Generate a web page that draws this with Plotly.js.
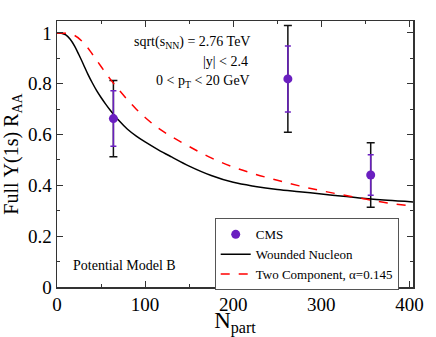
<!DOCTYPE html>
<html>
<head>
<meta charset="utf-8">
<script src="https://cdn.plot.ly/plotly-3.0.1.min.js"></script>
<style>
  html, body { margin: 0; padding: 0; background: #fff; }
  #chart { width: 436px; height: 337px; }
</style>
</head>
<body>
<div id="chart"></div>
<script>
// CMS points (Npart, R_AA) with stat (purple) and total (black) errors
const cmsNpart = [64, 262, 356];
const cmsRaa = [0.663, 0.819, 0.441];
const cmsStatErr = [0.109, 0.13, 0.08];
const cmsTotalErr = [0.15, 0.21, 0.127];

// wounded nucleon curve
const woundedNpart = [0, 5, 10, 15, 20, 25, 30, 35, 40, 45, 50, 55, 60, 70, 80, 90, 100, 115, 130, 150, 175, 200, 225, 250, 275, 300, 325, 350, 375, 404];
const woundedRaa = [1.0, 0.999, 0.992, 0.975, 0.948, 0.913, 0.876, 0.838, 0.804, 0.773, 0.746, 0.721, 0.698, 0.656, 0.621, 0.594, 0.571, 0.54, 0.512, 0.476, 0.439, 0.412, 0.396, 0.384, 0.375, 0.366, 0.357, 0.348, 0.341, 0.335];

// two component curve (alpha = 0.145)
const twoCompNpart = [0, 10, 20, 30, 40, 50, 60, 70, 80, 90, 100, 115, 130, 150, 175, 200, 225, 250, 275, 300, 325, 350, 375, 404];
const twoCompRaa = [1.0, 0.999, 0.99, 0.962, 0.917, 0.868, 0.82, 0.777, 0.737, 0.7, 0.667, 0.625, 0.592, 0.553, 0.508, 0.472, 0.444, 0.42, 0.398, 0.379, 0.362, 0.346, 0.331, 0.318];

const serif = '"Liberation Serif", "Times New Roman", Times, serif';
const purple = '#6a1fc0';

const traces = [
  {
    x: cmsNpart, y: cmsRaa,
    type: 'scatter', mode: 'markers',
    marker: { color: 'rgba(0,0,0,0)', size: 1 },
    error_y: { type: 'data', array: cmsTotalErr, visible: true, color: '#111', thickness: 1.5, width: 4 },
    showlegend: false, hoverinfo: 'skip'
  },
  {
    x: woundedNpart, y: woundedRaa,
    type: 'scatter', mode: 'lines',
    line: { color: '#000', width: 1.5, shape: 'spline', smoothing: 1 },
    name: 'Wounded Nucleon', legendrank: 2
  },
  {
    x: twoCompNpart, y: twoCompRaa,
    type: 'scatter', mode: 'lines',
    line: { color: '#ff0000', width: 1.5, dash: 'dash', shape: 'spline', smoothing: 1 },
    name: 'Two Component, \u03b1=0.145', legendrank: 3
  },
  {
    x: cmsNpart, y: cmsRaa,
    type: 'scatter', mode: 'markers',
    marker: { color: purple, size: 9 },
    error_y: { type: 'data', array: cmsStatErr, visible: true, color: purple, thickness: 1.5, width: 3 },
    name: 'CMS', legendrank: 1
  }
];

const layout = {
  width: 436, height: 337,
  margin: { l: 57, r: 23, t: 21, b: 50 },
  paper_bgcolor: '#fff', plot_bgcolor: '#fff',
  font: { family: serif, color: '#000' },
  showlegend: true,
  legend: {
    x: 0.443, y: 0.258, xanchor: 'left', yanchor: 'top',
    bordercolor: '#555', borderwidth: 1, bgcolor: '#fff',
    font: { family: serif, size: 13 },
    tracegroupgap: 0
  },
  xaxis: {
    range: [0, 404],
    tickvals: [0, 100, 200, 300, 400],
    ticks: 'inside', ticklen: 6, tickcolor: '#333',
    minor: { dtick: 50, ticks: 'inside', ticklen: 3, tickcolor: '#333' },
    showline: true, mirror: 'ticks', linecolor: '#333', linewidth: 1.5,
    showgrid: false, zeroline: false,
    tickfont: { family: serif, size: 19 },
    title: { text: 'N<sub>part</sub>', font: { family: serif, size: 23 }, standoff: 0 }
  },
  yaxis: {
    range: [0, 1.047],
    tickvals: [0, 0.2, 0.4, 0.6, 0.8, 1],
    ticktext: ['0', '0.2', '0.4', '0.6', '0.8', '1'],
    ticks: 'inside', ticklen: 6, tickcolor: '#333',
    minor: { dtick: 0.1, ticks: 'inside', ticklen: 3, tickcolor: '#333' },
    showline: true, mirror: 'ticks', linecolor: '#333', linewidth: 1.5,
    showgrid: false, zeroline: false,
    tickfont: { family: serif, size: 19 },
    title: { text: 'Full \u03a5(1s) R<sub>AA</sub>', font: { family: serif, size: 20 }, standoff: 4 }
  },
  annotations: [
    { xref: 'paper', yref: 'paper', x: 0.547, y: 0.921, xanchor: 'right', yanchor: 'middle',
      text: 'sqrt(s<sub>NN</sub>) = 2.76 TeV', showarrow: false, font: { family: serif, size: 14 } },
    { xref: 'paper', yref: 'paper', x: 0.541, y: 0.846, xanchor: 'right', yanchor: 'middle',
      text: '|y| < 2.4', showarrow: false, font: { family: serif, size: 14 } },
    { xref: 'paper', yref: 'paper', x: 0.547, y: 0.771, xanchor: 'right', yanchor: 'middle',
      text: '0 < p<sub>T</sub> < 20 GeV', showarrow: false, font: { family: serif, size: 14 } },
    { xref: 'paper', yref: 'paper', x: 0.04, y: 0.082, xanchor: 'left', yanchor: 'middle',
      text: 'Potential Model B', showarrow: false, font: { family: serif, size: 14 } }
  ]
};

Plotly.newPlot('chart', traces, layout, { displayModeBar: false, staticPlot: true });
</script>
</body>
</html>
